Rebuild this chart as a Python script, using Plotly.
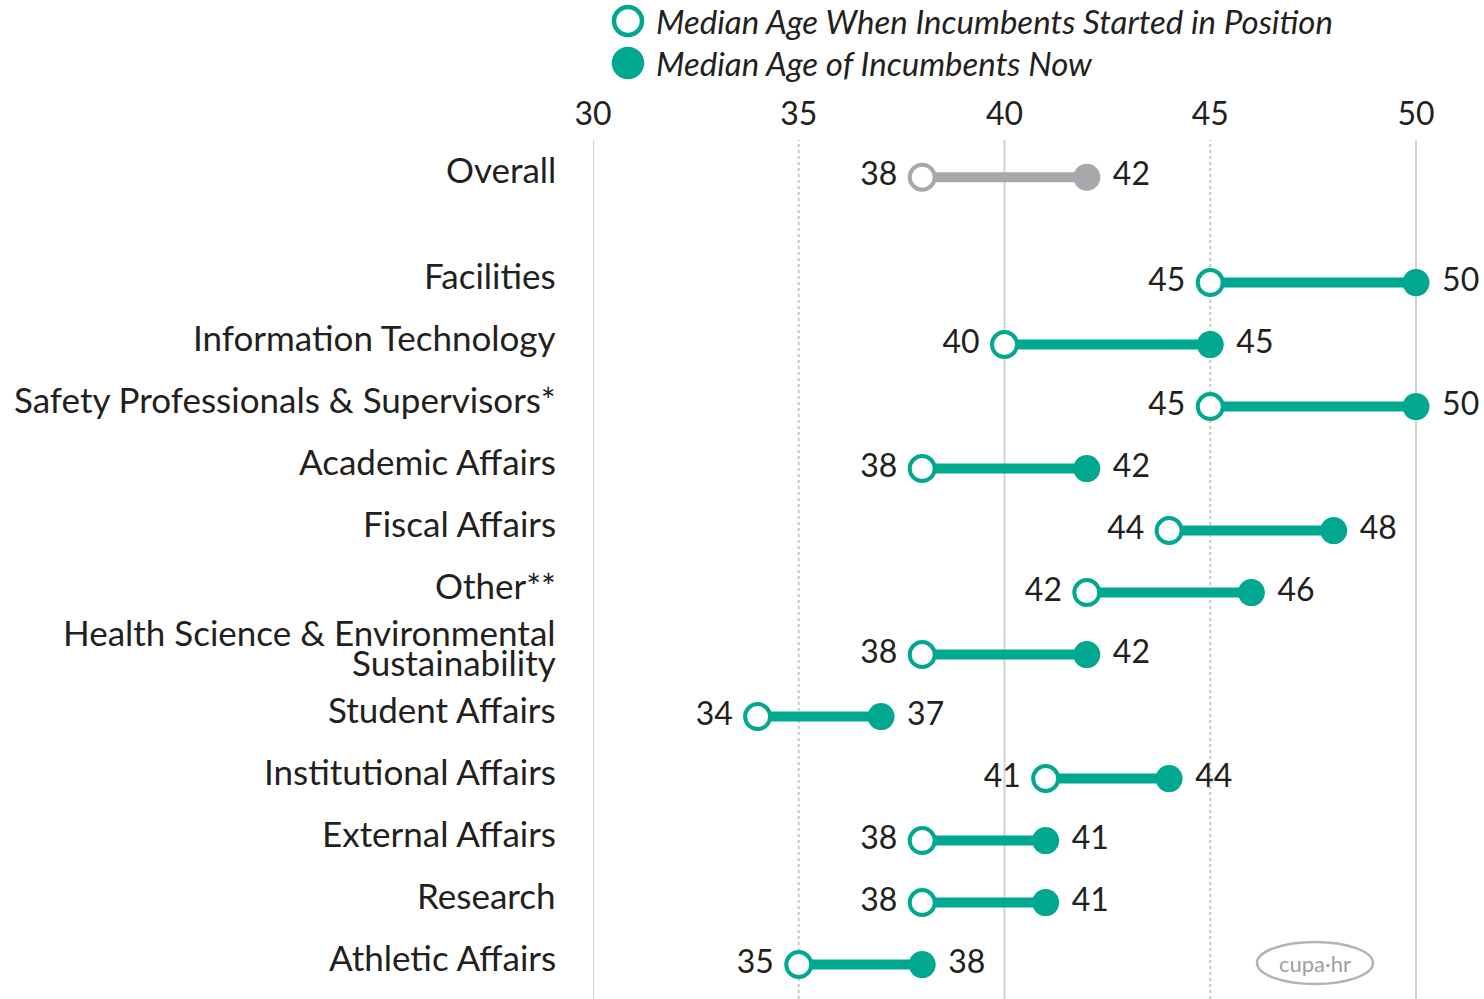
import plotly.graph_objects as go

# data (top to bottom)
categories = [
    "Overall",
    "Facilities",
    "Information Technology",
    "Safety Professionals & Supervisors*",
    "Academic Affairs",
    "Fiscal Affairs",
    "Other**",
    "Health Science & Environmental<br>Sustainability",
    "Student Affairs",
    "Institutional Affairs",
    "External Affairs",
    "Research",
    "Athletic Affairs",
]
age_started = [38, 45, 40, 45, 38, 44, 42, 38, 34, 41, 38, 38, 35]
age_now = [42, 50, 45, 50, 42, 48, 46, 42, 37, 44, 41, 41, 38]
x_ticks = [30, 35, 40, 45, 50]

series_started = "Median Age When Incumbents Started in Position"
series_now = "Median Age of Incumbents Now"

TEAL = "#00A88F"
GRAY = "#A7A8AB"
TEXT = "#231F20"
GRID = "#D3D3D5"
FONT = "Lato"

# figure geometry (page body margin is removed below, so these are page pixels)
W, H = 1484, 999
ML, MT = 593, 140
PW, PH = W - ML, H - MT

# Overall sits a bit apart from the departments
rows = [0] + [1.7 + i for i in range(len(categories) - 1)]

fig = go.Figure()


def add_group(idx, color):
    ys = [rows[i] for i in idx]
    s = [age_started[i] for i in idx]
    n = [age_now[i] for i in idx]

    # connecting bars
    lx, ly = [], []
    for a, b, y in zip(s, n, ys):
        lx += [a, b, None]
        ly += [y, y, None]
    fig.add_trace(go.Scatter(
        x=lx, y=ly, mode="lines",
        line=dict(color=color, width=10),
        hoverinfo="skip", showlegend=False))

    # start (open) markers
    fig.add_trace(go.Scatter(
        x=s, y=ys, mode="markers+text",
        marker=dict(symbol="circle", size=25, color="white",
                    line=dict(color=color, width=4)),
        text=[f"{v}\u00a0" for v in s],
        textposition="middle left",
        textfont=dict(family=FONT, size=32, color=TEXT),
        name=series_started, cliponaxis=False))

    # current (filled) markers
    fig.add_trace(go.Scatter(
        x=n, y=ys, mode="markers+text",
        marker=dict(symbol="circle", size=27, color=color),
        text=[f"\u00a0{v}" for v in n],
        textposition="middle right",
        textfont=dict(family=FONT, size=32, color=TEXT),
        name=series_now, cliponaxis=False))


add_group([0], GRAY)
add_group(list(range(1, len(categories))), TEAL)

y_top = -0.6
y_bot = y_top + PH / 62.0

# vertical grid: solid on tens, dotted on fives
shapes = []
for t in x_ticks:
    shapes.append(dict(
        type="line", xref="x", yref="paper", x0=t, x1=t, y0=0, y1=1,
        line=dict(color=GRID if t % 10 == 0 else "#C8C8C8", width=2,
                  dash="solid" if t % 10 == 0 else "dot"),
        layer="below"))

# legend drawn in the top margin
annotations = []
for ypx, label, filled in [(21, series_started, False), (63, series_now, True)]:
    yp = 1 + (MT - ypx) / PH
    shapes.append(dict(
        type="circle", xref="paper", yref="paper",
        xsizemode="pixel", ysizemode="pixel",
        xanchor=(628 - ML) / PW, yanchor=yp,
        x0=-14, x1=14, y0=-14, y1=14,
        fillcolor=TEAL if filled else "white",
        line=dict(color=TEAL, width=4.5)))
    annotations.append(dict(
        xref="paper", yref="paper",
        x=(654 - ML) / PW, y=yp,
        xanchor="left", yanchor="middle", showarrow=False,
        text=f"<i>{label}</i>",
        font=dict(family=FONT, size=33, color=TEXT)))

# category labels (multi-line labels get tight line spacing)
for cat, y in zip(categories, rows):
    lines = cat.split("<br>")
    for k, line in enumerate(lines):
        annotations.append(dict(
            xref="paper", yref="y", x=0, y=y,
            xanchor="right", yanchor="middle", align="right",
            xshift=-35, yshift=8 + (len(lines) - 1) * 15 - k * 30,
            showarrow=False,
            text=line, font=dict(family=FONT, size=35, color=TEXT)))

# watermark
wx, wy = (1315 - ML) / PW, (H - 963) / PH
annotations.append(dict(
    xref="paper", yref="paper", x=wx, y=wy,
    xanchor="center", yanchor="middle", showarrow=False,
    text="cupa·hr", font=dict(family=FONT, size=22, color="#A0A0A0")))
shapes.append(dict(
    type="circle", xref="paper", yref="paper",
    xsizemode="pixel", ysizemode="pixel",
    xanchor=wx, yanchor=wy,
    x0=-58, x1=58, y0=-21, y1=21,
    line=dict(color="#B4B4B4", width=2.5)))

fig.update_layout(
    width=W, height=H,
    margin=dict(l=ML, r=0, t=MT, b=0),
    plot_bgcolor="white", paper_bgcolor="white",
    showlegend=False,
    shapes=shapes,
    annotations=annotations,
    font=dict(family=FONT, color=TEXT),
)

fig.update_xaxes(
    range=[30, 30 + PW / 41.15], side="top",
    tickvals=x_ticks, ticktext=[str(t) for t in x_ticks],
    tickfont=dict(family=FONT, size=32, color=TEXT),
    showgrid=False, zeroline=False, showline=False, ticks="",
    ticklabelstandoff=8,
)
fig.update_yaxes(
    range=[y_bot, y_top], showgrid=False, zeroline=False,
    showline=False, showticklabels=False, ticks="",
)

fig.write_html("out.html",
               config={"displayModeBar": False},
               post_script="document.body.style.margin='0';")
